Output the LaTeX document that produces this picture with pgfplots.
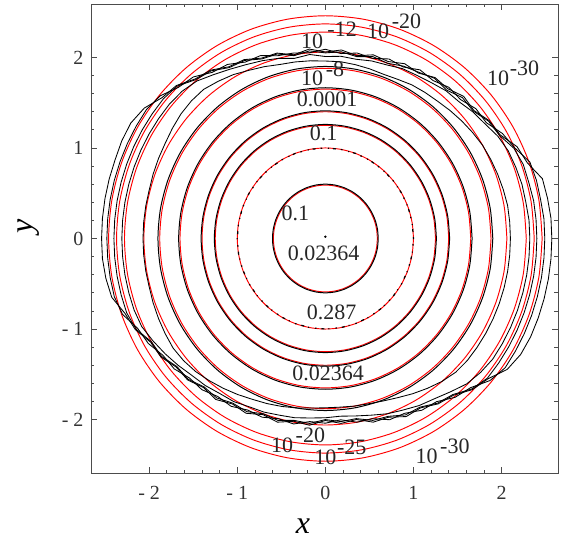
\documentclass[border=0pt]{standalone}
\usepackage{fontspec}
\setmainfont{Liberation Serif}
\usepackage{pgfplots}
\usepackage{pgfplotstable}
\pgfplotsset{compat=1.18}

% concentric iso-lines, polar form: angle (deg) and radius of each level
\pgfplotstableread{
a   ra   rb   rc   rd   re   rf   rg   rh   ri   rj   ka   kc   kd   ke    kf
0   0.59 1.00 1.25 1.40 1.65 1.88 2.06 2.28 2.37 2.46 0.60 1.26 1.41 1.665 1.90
10  0.59 1.00 1.25 1.40 1.65 1.88 2.06 2.28 2.37 2.46 0.60 1.26 1.41 1.665 1.90
20  0.59 1.00 1.25 1.40 1.65 1.88 2.06 2.28 2.37 2.46 0.60 1.26 1.41 1.665 1.90
30  0.59 1.00 1.25 1.40 1.65 1.88 2.06 2.28 2.37 2.46 0.60 1.26 1.41 1.665 1.90
40  0.59 1.00 1.25 1.40 1.65 1.88 2.06 2.28 2.37 2.46 0.60 1.26 1.41 1.665 1.90
50  0.59 1.00 1.25 1.40 1.65 1.88 2.06 2.28 2.37 2.46 0.60 1.26 1.41 1.665 1.90
60  0.59 1.00 1.25 1.40 1.65 1.88 2.06 2.28 2.37 2.46 0.60 1.26 1.41 1.665 1.90
70  0.59 1.00 1.25 1.40 1.65 1.88 2.06 2.28 2.37 2.46 0.60 1.26 1.41 1.665 1.90
80  0.59 1.00 1.25 1.40 1.65 1.88 2.06 2.28 2.37 2.46 0.60 1.26 1.41 1.665 1.90
90  0.59 1.00 1.25 1.40 1.65 1.88 2.06 2.28 2.37 2.46 0.60 1.26 1.41 1.665 1.90
100 0.59 1.00 1.25 1.40 1.65 1.88 2.06 2.28 2.37 2.46 0.60 1.26 1.41 1.665 1.90
110 0.59 1.00 1.25 1.40 1.65 1.88 2.06 2.28 2.37 2.46 0.60 1.26 1.41 1.665 1.90
120 0.59 1.00 1.25 1.40 1.65 1.88 2.06 2.28 2.37 2.46 0.60 1.26 1.41 1.665 1.90
130 0.59 1.00 1.25 1.40 1.65 1.88 2.06 2.28 2.37 2.46 0.60 1.26 1.41 1.665 1.90
140 0.59 1.00 1.25 1.40 1.65 1.88 2.06 2.28 2.37 2.46 0.60 1.26 1.41 1.665 1.90
150 0.59 1.00 1.25 1.40 1.65 1.88 2.06 2.28 2.37 2.46 0.60 1.26 1.41 1.665 1.90
160 0.59 1.00 1.25 1.40 1.65 1.88 2.06 2.28 2.37 2.46 0.60 1.26 1.41 1.665 1.90
170 0.59 1.00 1.25 1.40 1.65 1.88 2.06 2.28 2.37 2.46 0.60 1.26 1.41 1.665 1.90
180 0.59 1.00 1.25 1.40 1.65 1.88 2.06 2.28 2.37 2.46 0.60 1.26 1.41 1.665 1.90
190 0.59 1.00 1.25 1.40 1.65 1.88 2.06 2.28 2.37 2.46 0.60 1.26 1.41 1.665 1.90
200 0.59 1.00 1.25 1.40 1.65 1.88 2.06 2.28 2.37 2.46 0.60 1.26 1.41 1.665 1.90
210 0.59 1.00 1.25 1.40 1.65 1.88 2.06 2.28 2.37 2.46 0.60 1.26 1.41 1.665 1.90
220 0.59 1.00 1.25 1.40 1.65 1.88 2.06 2.28 2.37 2.46 0.60 1.26 1.41 1.665 1.90
230 0.59 1.00 1.25 1.40 1.65 1.88 2.06 2.28 2.37 2.46 0.60 1.26 1.41 1.665 1.90
240 0.59 1.00 1.25 1.40 1.65 1.88 2.06 2.28 2.37 2.46 0.60 1.26 1.41 1.665 1.90
250 0.59 1.00 1.25 1.40 1.65 1.88 2.06 2.28 2.37 2.46 0.60 1.26 1.41 1.665 1.90
260 0.59 1.00 1.25 1.40 1.65 1.88 2.06 2.28 2.37 2.46 0.60 1.26 1.41 1.665 1.90
270 0.59 1.00 1.25 1.40 1.65 1.88 2.06 2.28 2.37 2.46 0.60 1.26 1.41 1.665 1.90
280 0.59 1.00 1.25 1.40 1.65 1.88 2.06 2.28 2.37 2.46 0.60 1.26 1.41 1.665 1.90
290 0.59 1.00 1.25 1.40 1.65 1.88 2.06 2.28 2.37 2.46 0.60 1.26 1.41 1.665 1.90
300 0.59 1.00 1.25 1.40 1.65 1.88 2.06 2.28 2.37 2.46 0.60 1.26 1.41 1.665 1.90
310 0.59 1.00 1.25 1.40 1.65 1.88 2.06 2.28 2.37 2.46 0.60 1.26 1.41 1.665 1.90
320 0.59 1.00 1.25 1.40 1.65 1.88 2.06 2.28 2.37 2.46 0.60 1.26 1.41 1.665 1.90
330 0.59 1.00 1.25 1.40 1.65 1.88 2.06 2.28 2.37 2.46 0.60 1.26 1.41 1.665 1.90
340 0.59 1.00 1.25 1.40 1.65 1.88 2.06 2.28 2.37 2.46 0.60 1.26 1.41 1.665 1.90
350 0.59 1.00 1.25 1.40 1.65 1.88 2.06 2.28 2.37 2.46 0.60 1.26 1.41 1.665 1.90
360 0.59 1.00 1.25 1.40 1.65 1.88 2.06 2.28 2.37 2.46 0.60 1.26 1.41 1.665 1.90
}\rings

% outer black levels of the computed solution (bundled and noisy at top and bottom)
\pgfplotstableread{
a   b6   b7   b8   b9   b10
0   2.10 2.32 2.40 2.49 2.57
5   2.10 2.32 2.40 2.49 2.57
10  2.10 2.31 2.40 2.48 2.56
15  2.09 2.31 2.39 2.48 2.55
20  2.08 2.30 2.39 2.47 2.44
25  2.07 2.29 2.36 2.37 2.40
30  2.06 2.26 2.28 2.32 2.29
35  2.04 2.21 2.26 2.23 2.27
40  2.02 2.18 2.19 2.23 2.20
45  2.00 2.14 2.20 2.17 2.22
50  1.98 2.13 2.14 2.18 2.16
55  1.97 2.10 2.16 2.13 2.17
60  1.96 2.08 2.12 2.15 2.11
65  1.94 2.07 2.10 2.09 2.13
70  1.93 2.04 2.06 2.11 2.08
75  1.94 2.03 2.08 2.06 2.10
80  1.95 2.01 2.04 2.08 2.05
85  1.96 2.02 2.07 2.05 2.09
90  1.96 2.01 2.05 2.09 2.06
95  1.97 2.04 2.08 2.06 2.10
100 1.98 2.02 2.05 2.08 2.06
105 1.99 2.06 2.11 2.09 2.12
110 2.02 2.09 2.11 2.15 2.12
115 2.05 2.12 2.17 2.15 2.18
120 2.09 2.16 2.18 2.22 2.19
125 2.12 2.21 2.26 2.24 2.27
130 2.15 2.27 2.29 2.33 2.30
135 2.15 2.30 2.38 2.36 2.39
140 2.14 2.31 2.40 2.45 2.42
145 2.12 2.31 2.40 2.48 2.51
150 2.10 2.31 2.40 2.48 2.55
155 2.09 2.31 2.40 2.48 2.55
160 2.08 2.31 2.40 2.48 2.54
165 2.07 2.31 2.40 2.48 2.54
170 2.07 2.31 2.40 2.48 2.54
175 2.07 2.31 2.40 2.48 2.54
180 2.07 2.31 2.40 2.48 2.54
185 2.07 2.31 2.40 2.48 2.54
190 2.07 2.31 2.40 2.48 2.53
195 2.07 2.31 2.40 2.48 2.51
200 2.08 2.31 2.40 2.45 2.42
205 2.09 2.30 2.37 2.35 2.38
210 2.10 2.26 2.28 2.32 2.29
215 2.11 2.22 2.27 2.25 2.28
220 2.10 2.18 2.20 2.24 2.21
225 2.08 2.14 2.20 2.18 2.21
230 2.05 2.12 2.14 2.18 2.15
235 2.02 2.09 2.15 2.13 2.17
240 1.99 2.08 2.10 2.14 2.11
245 1.96 2.05 2.11 2.09 2.13
250 1.94 2.04 2.06 2.10 2.07
255 1.92 2.02 2.08 2.06 2.10
260 1.90 2.01 2.04 2.08 2.05
265 1.88 1.99 2.05 2.03 2.07
270 1.87 1.98 2.00 2.04 2.01
275 1.87 1.97 2.03 2.01 2.05
280 1.88 1.99 2.02 2.06 2.03
285 1.89 2.02 2.08 2.06 2.10
290 1.91 2.06 2.09 2.13 2.10
295 1.94 2.09 2.15 2.13 2.17
300 1.98 2.13 2.15 2.19 2.16
305 2.02 2.16 2.22 2.20 2.23
310 2.06 2.21 2.25 2.29 2.26
315 2.09 2.27 2.35 2.33 2.36
320 2.10 2.30 2.40 2.44 2.41
325 2.10 2.32 2.40 2.49 2.52
330 2.10 2.32 2.40 2.49 2.56
335 2.10 2.32 2.40 2.49 2.57
340 2.10 2.32 2.40 2.49 2.57
345 2.10 2.32 2.40 2.49 2.57
350 2.10 2.32 2.40 2.49 2.57
355 2.10 2.32 2.40 2.49 2.57
360 2.10 2.32 2.40 2.49 2.57
}\outer

\begin{document}
\begin{tikzpicture}
\begin{axis}[
  scale only axis, width=467pt, height=469pt,
  anchor=south west, at={(0,0)},
  xmin=-2.66, xmax=2.64, ymin=-2.59, ymax=2.59,
  xtick={-2,-1,0,1,2}, xticklabels={- 2,- 1,0,1,2},
  ytick={-2,-1,0,1,2}, yticklabels={- 2,- 1,0,1,2},
  minor x tick num=4, minor y tick num=4,
  tick align=inside, major tick length=6pt, minor tick length=3.5pt,
  axis line style={black!70, line width=0.8pt},
  every tick/.style={black!70, line width=0.7pt},
  ticklabel style={font=\fontsize{20}{22}\selectfont, text=black!80},
  xticklabel style={yshift=-10pt},
  yticklabel style={xshift=-4pt},
  xlabel={\textit{x}}, ylabel={\textit{y}},
  xlabel style={font=\fontsize{32}{32}\selectfont, at={(axis description cs:0.454,-0.1144)}, anchor=center},
  ylabel style={font=\fontsize{32}{32}\selectfont, at={(axis description cs:-0.134,0.525)}, anchor=center},
  clip=true,
]
% analytic levels (red)
\foreach \c in {ra,rb,rc,rd,re,rf,rg,rh,ri,rj}{
  \addplot[red, line width=0.95pt, smooth, data cs=polar] table[x=a, y=\c] {\rings};
}
% computed levels (black)
\foreach \c in {ka,kc,kd,ke,kf}{
  \addplot[black, line width=1.0pt, smooth, data cs=polar] table[x=a, y=\c] {\rings};
}
\addplot[black, line width=1.2pt, data cs=polar,
  dash pattern=on 1.5pt off 5pt on 3pt off 4pt on 1pt off 6pt] table[x=a, y=rb] {\rings};
\foreach \c in {b6,b7,b8,b9,b10}{
  \addplot[black, line width=0.85pt, line join=round, data cs=polar] table[x=a, y=\c] {\outer};
}
\addplot[only marks, mark=*, mark size=1pt, black] coordinates {(0,0.02)};

% level labels
\begin{scope}[every node/.style={font=\fontsize{22}{24}\selectfont, text=black!85, inner sep=0pt}]
\node at (-0.34,0.28) {0.1};
\node at (-0.02,-0.16) {0.02364};
\node at (-0.02,1.16) {0.1};
\node at (0.02,1.54) {0.0001};
\node at (-0.15,1.77) {10}; \node at (0.11,1.87) {-8};
\node at (-0.15,2.18) {10}; \node at (0.19,2.31) {-12};
\node at (0.60,2.29) {10};  \node at (0.92,2.40) {-20};
\node at (1.96,1.77) {10};  \node at (2.26,1.88) {-30};
\node at (0.07,-0.82) {0.287};
\node at (0.03,-1.49) {0.02364};
\node at (-0.49,-2.28) {10}; \node at (-0.17,-2.17) {-20};
\node at (0.0,-2.42) {10};   \node at (0.30,-2.31) {-25};
\node at (1.15,-2.41) {10};  \node at (1.47,-2.30) {-30};
\end{scope}
\end{axis}
\pgfresetboundingbox
\path (-91pt,-68pt) rectangle (476pt,473pt);
\end{tikzpicture}
\end{document}
